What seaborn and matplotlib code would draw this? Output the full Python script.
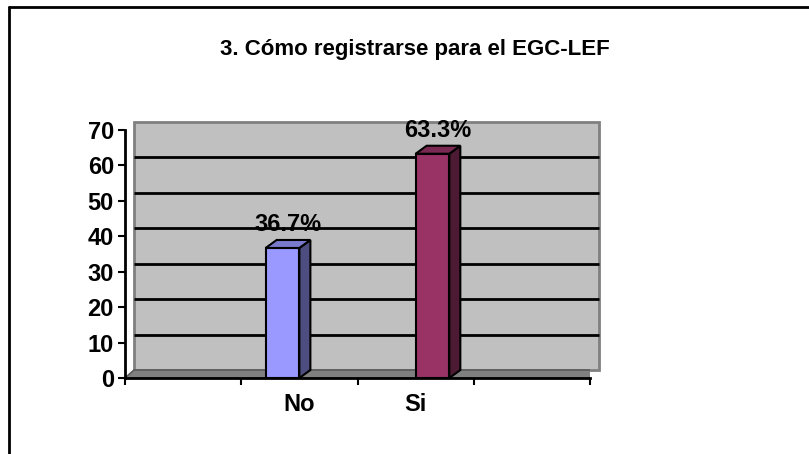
import numpy as np
import pandas as pd
import matplotlib
matplotlib.use("Agg")
import matplotlib.pyplot as plt
import seaborn as sns
from matplotlib.patches import Rectangle, Polygon
from matplotlib.transforms import ScaledTranslation, IdentityTransform
from matplotlib.lines import Line2D

# data
categories = ["No", "Si"]
values = [36.7, 63.3]
bar_colors = ["#9999FF", "#993366"]
side_colors = ["#4D4D80", "#4D1A33"]
top_colors = ["#7A7ACC", "#7A2952"]
title = "3. Cómo registrarse para el EGC-LEF"

sns.set_style("white")
plt.rcParams["font.family"] = ["Liberation Sans", "DejaVu Sans"]
plt.rcParams["font.weight"] = "bold"
plt.rcParams["text.color"] = "black"
plt.rcParams["xtick.color"] = "black"
plt.rcParams["ytick.color"] = "black"

fig = plt.figure(figsize=(8.09, 4.54), dpi=100)
ax = fig.add_axes([125 / 809, 1 - 378 / 454, 465 / 809, 248 / 454])
ax.set_facecolor("none")

# depth of the fake 3d (pixels)
ddx, ddy = 9, 8
shift = ScaledTranslation(ddx / 100, ddy / 100, fig.dpi_scale_trans)

df = pd.DataFrame({"cat": categories, "val": values})
sns.barplot(data=df, x="cat", y="val", hue="cat", palette=bar_colors, saturation=1,
            width=0.58, dodge=True, legend=False, ax=ax,
            edgecolor="black", linewidth=1.5, zorder=3)

ax.set_xlim(-1.5, 2.5)
ax.set_ylim(0, 70)
ax.set_yticks(np.arange(0, 71, 10))
ax.set_xticks([-1.5, -0.5, 0.5, 1.5, 2.5], minor=True)
ax.tick_params(axis="x", which="major", bottom=True, length=0, pad=10.5, labelsize=17,
               labelcolor="black")
ax.tick_params(axis="x", which="minor", bottom=True, length=5, width=1.5, direction="out",
               color="black")
ax.tick_params(axis="y", left=True, length=5, width=1.5, direction="out", color="black",
               labelsize=17, labelcolor="black", pad=3)
for lab in ax.get_xticklabels() + ax.get_yticklabels():
    lab.set_fontweight("bold")
ax.set_xlabel("")
ax.set_ylabel("")
sns.despine(ax=ax)
for s in ["left", "bottom"]:
    ax.spines[s].set_color("black")
    ax.spines[s].set_linewidth(2)
    ax.spines[s].set_zorder(5)

# back wall
wall = Rectangle((0, 0), 1, 1, transform=ax.transAxes + shift, facecolor="#C0C0C0",
                 edgecolor="#808080", lw=2, zorder=0, clip_on=False)
ax.add_patch(wall)
# gridlines on the wall
ax.hlines(np.arange(10, 61, 10), 0, 1, transform=ax.get_yaxis_transform() + shift,
          colors="black", lw=2, zorder=1, clip_on=False)

# floor and side edges in pixels
fig.canvas.draw()
x0, y0 = ax.transAxes.transform((0, 0))
x1, y1 = ax.transAxes.transform((1, 1))
floor = Polygon([(x0, y0), (x0 + ddx, y0 + ddy), (x1 + ddx, y0 + ddy), (x1, y0)],
                closed=True, transform=IdentityTransform(), facecolor="#808080",
                edgecolor="#5A5A5A", lw=1.2, zorder=2)
ax.add_patch(floor)
ax.add_line(Line2D([x0, x0 + ddx], [y1, y1 + ddy], transform=IdentityTransform(),
                   color="#808080", lw=2, zorder=1))
ax.add_line(Line2D([x1, x1 + ddx], [y0, y0 + ddy], transform=IdentityTransform(),
                   color="black", lw=1.5, zorder=2))

# 3d faces of the bars and labels
bdx, bdy = 11, 8
for i, p in enumerate(ax.patches[:len(values)]):
    if p.get_height() == 0 or np.isnan(p.get_height()):
        continue
    bx0, by0 = ax.transData.transform((p.get_x(), 0))
    bx1, by1 = ax.transData.transform((p.get_x() + p.get_width(), p.get_height()))
    k = i
    side = Polygon([(bx1, by0), (bx1, by1), (bx1 + bdx, by1 + bdy), (bx1 + bdx, by0 + bdy)],
                   closed=True, transform=IdentityTransform(), facecolor=side_colors[k],
                   edgecolor="black", lw=1.5, zorder=3)
    top = Polygon([(bx0, by1), (bx0 + bdx, by1 + bdy), (bx1 + bdx, by1 + bdy), (bx1, by1)],
                  closed=True, transform=IdentityTransform(), facecolor=top_colors[k],
                  edgecolor="black", lw=1.5, zorder=3)
    ax.add_patch(side)
    ax.add_patch(top)
    fig.text((bx0 + bx1 + bdx) / 2 / 809, (by1 + bdy + 4) / 454, f"{values[k]}%",
             ha="center", va="bottom", fontsize=17, fontweight="bold", zorder=6)

# title and frame
fig.text(415 / 809, 1 - 50 / 454, title, ha="center", va="center",
         fontsize=16, fontweight="bold")
fig.add_artist(Line2D([9 / 809, 9 / 809], [0, 1 - 6.5 / 454], transform=fig.transFigure,
                      color="black", lw=2))
fig.add_artist(Line2D([9 / 809, 1], [1 - 6.5 / 454, 1 - 6.5 / 454], transform=fig.transFigure,
                      color="black", lw=2))

fig.savefig("out.png", dpi=100)
